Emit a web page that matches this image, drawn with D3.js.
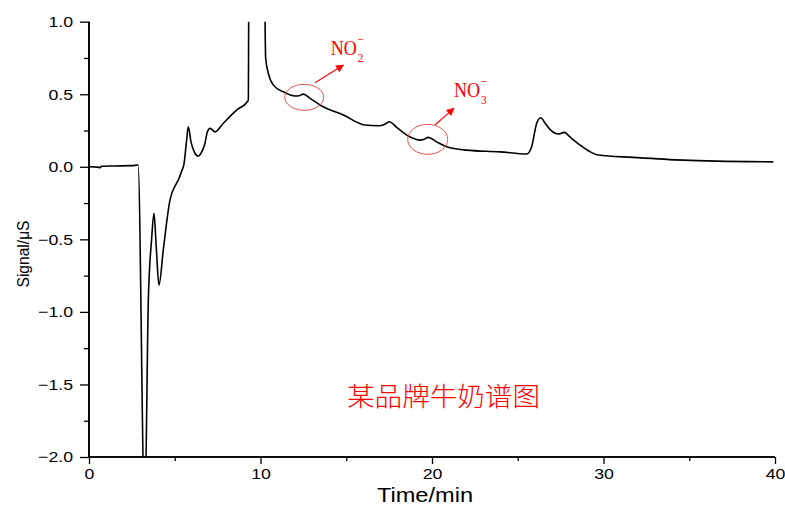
<!DOCTYPE html>
<html>
<head>
<meta charset="utf-8">
<script src="https://cdn.jsdelivr.net/npm/d3@7"></script>
<style>
  html, body { margin: 0; padding: 0; background: #fff; }
  svg { display: block; }
</style>
</head>
<body>
<svg id="chart" width="785" height="507"></svg>
<script>
// 保留时间 (min) 与电导信号 (μS)
const timeMin = [0, 0.5, 0.64, 0.74, 1.5, 2.5, 2.86, 3.25, 3.46, 3.65, 3.79, 3.92, 4.08, 4.33, 4.72, 5.11, 5.21, 5.4, 5.54, 5.69, 5.79, 5.95, 6.15, 6.37, 6.6, 6.76, 6.9, 7.06, 7.35, 7.83, 8.61, 9.23, 9.29, 9.33, 10.2, 10.3, 10.46, 10.75, 11.33, 12.01, 12.25, 12.5, 12.89, 13.57, 14.83, 16.09, 16.87, 17.26, 17.51, 17.94, 18.62, 19.3, 19.55, 19.78, 20.27, 20.86, 22.02, 23.96, 25.52, 25.81, 26.1, 26.34, 26.6, 26.88, 27.37, 27.7, 28.1, 28.63, 29.2, 29.7, 31.74, 34.65, 36.6, 39.9];
const signalUS = [0, -0.002, -0.006, 0.004, 0.006, 0.008, 0.012, -2.4, -0.92, -0.5, -0.32, -0.55, -0.816, -0.574, -0.23, -0.112, -0.09, -0.03, 0.02, 0.18, 0.276, 0.17, 0.1, 0.074, 0.11, 0.161, 0.24, 0.265, 0.241, 0.3, 0.391, 0.448, 0.46, 1.6, 1.6, 0.75, 0.644, 0.563, 0.517, 0.488, 0.49, 0.501, 0.472, 0.419, 0.357, 0.288, 0.283, 0.294, 0.31, 0.272, 0.212, 0.184, 0.19, 0.203, 0.172, 0.138, 0.115, 0.103, 0.088, 0.138, 0.299, 0.338, 0.3, 0.258, 0.226, 0.237, 0.2, 0.15, 0.105, 0.081, 0.065, 0.046, 0.039, 0.034];

const xTicks = [0, 10, 20, 30, 40];
const xMinor = [5, 15, 25, 35];
const yTicks = [1.0, 0.5, 0.0, -0.5, -1.0, -1.5, -2.0];
const yMinor = [0.75, 0.25, -0.25, -0.75, -1.25, -1.75];

// 标注：离子名称、峰位置 (t, signal)、箭头 (起点/终点)、文字位置
const ionNames = ['NO', 'NO'];
const ionSub = ['2', '3'];
const ionPeak = [[12.55, 0.479], [19.75, 0.189]];
const ionArrow = [[[13.18, 0.579], [14.83, 0.701]], [[20.17, 0.288], [21.28, 0.403]]];
const ionLabel = [[14.1, 0.77], [21.28, 0.483]];
const caption = '某品牌牛奶谱图';

const svg = d3.select('#chart');

const x = d3.scaleLinear().domain([0, 40]).range([89, 775]);
const y = d3.scaleLinear().domain([-2, 1]).range([457, 21.7]);

const STRETCH = 1.18; // 原图文字横向略拉伸

/* ─── clip ─── */
const defs = svg.append('defs');
defs.append('clipPath').attr('id', 'plot-clip')
  .append('rect').attr('x', x(0)).attr('y', y(1)).attr('width', x(40) - x(0)).attr('height', y(-2) - y(1));

/* ─── trace ─── */
const pts = timeMin.map((t, i) => [t, signalUS[i]]);
const line = d3.line().x(d => x(d[0])).y(d => y(d[1])).curve(d3.curveMonotoneX);
svg.append('path')
  .attr('clip-path', 'url(#plot-clip)')
  .attr('d', line(pts))
  .attr('fill', 'none').attr('stroke', '#000').attr('stroke-width', 1.6).attr('stroke-linejoin', 'round');

/* ─── axes ─── */
const tickFont = 'Arial, "Liberation Sans", sans-serif';

const gx = svg.append('g').attr('transform', `translate(0,${y(-2)})`);
gx.call(d3.axisBottom(x).tickValues(xTicks).tickSize(7).tickPadding(4).tickFormat(d3.format('d')));
gx.append('g').call(d3.axisBottom(x).tickValues(xMinor).tickSize(4).tickFormat(''));

const gy = svg.append('g').attr('transform', `translate(${x(0)},0)`);
gy.call(d3.axisLeft(y).tickValues(yTicks).tickSize(9).tickPadding(7).tickFormat(d3.format('.1f')));
gy.append('g').call(d3.axisLeft(y).tickValues(yMinor).tickSize(5).tickFormat(''));

// 只保留轴线，不要两端外刻度
gx.selectAll('.domain').attr('d', `M${x(0)},0H${x(40)}`);
gy.selectAll('.domain').attr('d', `M0,${y(1)}V${y(-2)}`);
svg.selectAll('.domain').attr('stroke', '#000').attr('stroke-width', 1.6);
svg.selectAll('.tick line').attr('stroke', '#000').attr('stroke-width', 1.3);
svg.selectAll('.tick text')
  .attr('fill', '#000').attr('font-family', tickFont).attr('font-size', 15);

// 横向拉伸文字
function stretch(sel) {
  sel.each(function () {
    const len = this.getComputedTextLength();
    if (len > 0) d3.select(this).attr('textLength', len * STRETCH).attr('lengthAdjust', 'spacingAndGlyphs');
  });
}
stretch(svg.selectAll('.tick text'));

// axis titles
const xt = svg.append('text').attr('x', (x(0) + x(40)) / 2 - 7).attr('y', 502)
  .attr('text-anchor', 'middle').attr('font-family', tickFont).attr('font-size', 20).attr('fill', '#000')
  .text('Time/min');
stretch(xt);

svg.append('text').attr('transform', `translate(29,254) rotate(-90)`)
  .attr('text-anchor', 'middle').attr('font-family', tickFont).attr('font-size', 17).attr('fill', '#000')
  .attr('textLength', 67).attr('lengthAdjust', 'spacingAndGlyphs')
  .text('Signal/μS');

/* ─── annotations ─── */
const red = '#ff0000';
const ann = svg.append('g');
defs.append('marker').attr('id', 'arrowhead')
  .attr('viewBox', '0 0 10 10').attr('refX', 9).attr('refY', 5)
  .attr('markerWidth', 10).attr('markerHeight', 8).attr('markerUnits', 'userSpaceOnUse').attr('orient', 'auto')
  .append('path').attr('d', 'M0,0L10,5L0,10Z').attr('fill', red);

const serif = '"Liberation Serif", "Times New Roman", serif';
const ellR = [[19.5, 13], [20, 15]];
ionPeak.forEach((p, i) => {
  ann.append('ellipse').attr('cx', x(p[0])).attr('cy', y(p[1]))
    .attr('rx', ellR[i][0]).attr('ry', ellR[i][1])
    .attr('fill', 'none').attr('stroke', '#e8403a').attr('stroke-width', 0.9);
  const a = ionArrow[i];
  ann.append('line').attr('x1', x(a[0][0])).attr('y1', y(a[0][1])).attr('x2', x(a[1][0])).attr('y2', y(a[1][1]))
    .attr('stroke', red).attr('stroke-width', 1.1).attr('marker-end', 'url(#arrowhead)');
  const lx = x(ionLabel[i][0]), ly = y(ionLabel[i][1]);
  // NO + 下标 + 上标负号，放在同一个 text 里
  const t = ann.append('text').attr('transform', `translate(${lx},${ly}) scale(0.86,1)`)
    .attr('font-family', serif).attr('font-size', 21).attr('fill', red);
  t.append('tspan').text(ionNames[i]);
  t.append('tspan').attr('dx', 1).attr('dy', 7).attr('font-size', 13).text(ionSub[i]);
  t.append('tspan').attr('dx', -7).attr('dy', -18).attr('font-size', 13).text('−');
});

svg.append('text').attr('x', 347).attr('y', 406)
  .attr('font-family', '"Noto Sans CJK SC", sans-serif').attr('font-size', 26).attr('font-weight', 300)
  .attr('fill', red).attr('textLength', 193).attr('lengthAdjust', 'spacingAndGlyphs')
  .text(caption);
</script>
</body>
</html>
